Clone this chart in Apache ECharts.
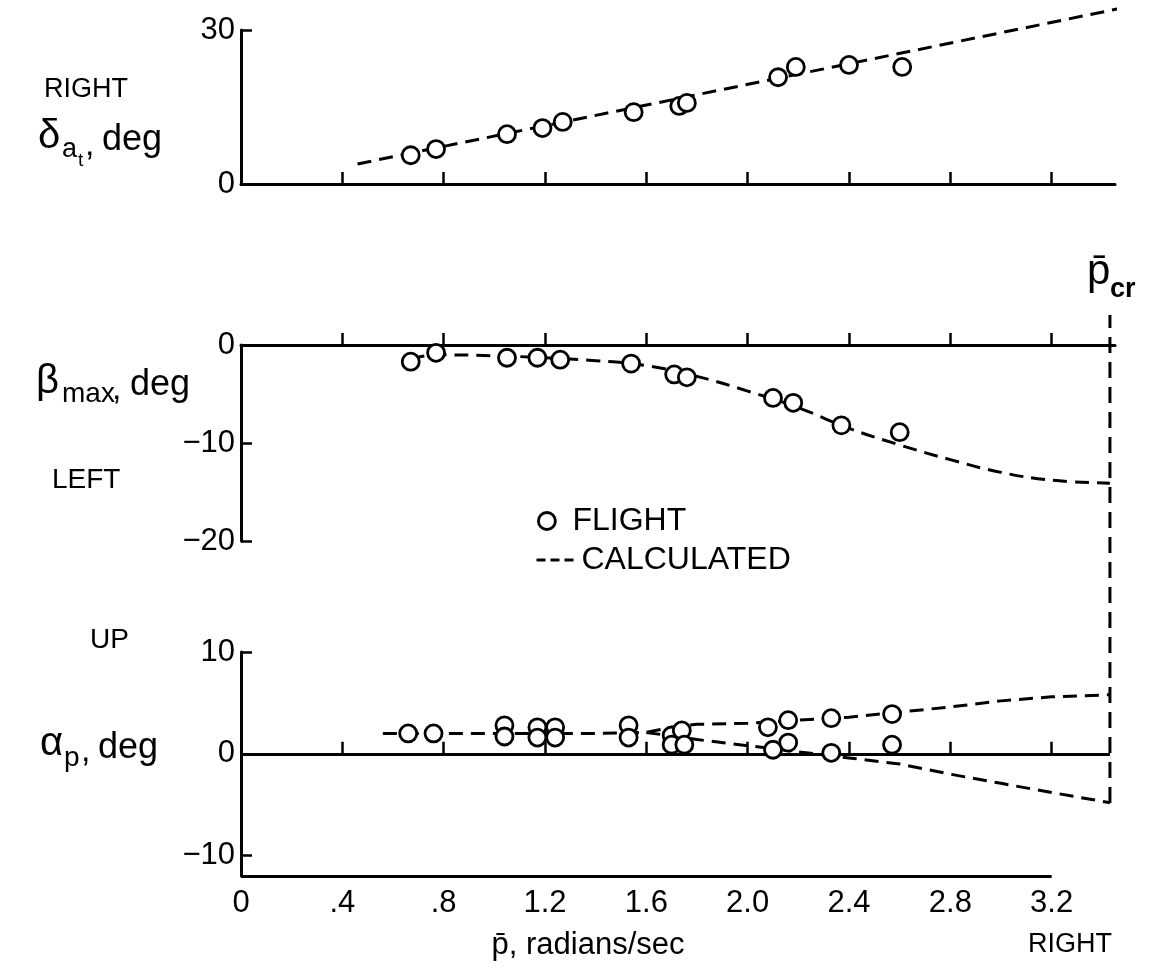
<!DOCTYPE html>
<html><head><meta charset="utf-8">
<script src="https://cdn.jsdelivr.net/npm/echarts@6/dist/echarts.min.js"></script>
<style>html,body{margin:0;padding:0;background:#fff}#c{width:1156px;height:968px}</style>
</head><body><div id="c"></div>
<script>
// ---------- data ----------
const xTickValues = [0.4, 0.8, 1.2, 1.6, 2.0, 2.4, 2.8, 3.2];
const xLabelValues = [0, 0.4, 0.8, 1.2, 1.6, 2.0, 2.4, 2.8, 3.2];
const pCr = 3.43;
const xMax = 3.45;

// top panel: aileron deflection
const flightP = [0.67, 0.77, 1.05, 1.19, 1.27, 1.55, 1.73, 1.76, 2.12, 2.19, 2.40, 2.61];
const deltaAt = [5.6, 6.8, 9.7, 10.9, 12.1, 14.0, 15.2, 15.8, 20.8, 22.8, 23.2, 22.8];
const calcDeltaP = [0.46, 3.47];
const calcDelta = [3.9, 34.2];

// middle panel: max sideslip
const betaP = [0.67, 0.77, 1.05, 1.17, 1.26, 1.54, 1.71, 1.76, 2.10, 2.18, 2.37, 2.60];
const betaMax = [-1.7, -0.8, -1.3, -1.3, -1.5, -1.9, -3.0, -3.3, -5.4, -5.9, -8.2, -8.9];
const calcBetaP = [0.67, 0.77, 1.0, 1.2, 1.4, 1.6, 1.8, 2.0, 2.2, 2.4, 2.6, 2.8, 3.0, 3.2, 3.43];
const calcBeta = [-1.4, -1.0, -1.1, -1.3, -1.6, -2.1, -3.2, -4.7, -6.4, -8.5, -10.2, -11.7, -13.0, -13.8, -14.1];

// bottom panel: alpha_p
const alphaPx = [0.66, 0.76, 1.04, 1.04, 1.17, 1.17, 1.24, 1.24, 1.53, 1.53, 1.70, 1.74, 1.70, 1.75, 2.08, 2.10, 2.16, 2.16, 2.33, 2.33, 2.57, 2.57];
const alphaVal = [2.0, 2.0, 2.8, 1.7, 2.6, 1.6, 2.6, 1.6, 2.8, 1.6, 1.8, 2.3, 0.9, 0.9, 2.6, 0.4, 3.3, 1.1, 3.5, 0.1, 3.9, 0.9];
const calcAlphaUpP = [0.56, 1.0, 1.4, 1.6, 1.7, 1.8, 2.0, 2.2, 2.4, 2.6, 2.8, 3.0, 3.2, 3.43];
const calcAlphaUp = [2.0, 2.0, 2.0, 2.1, 2.6, 2.9, 3.0, 3.3, 3.6, 4.1, 4.6, 5.2, 5.6, 5.8];
const calcAlphaLoP = [1.6, 1.8, 2.0, 2.2, 2.4, 2.6, 2.8, 3.0, 3.2, 3.43];
const calcAlphaLo = [2.1, 1.4, 0.8, 0.2, -0.4, -1.0, -2.0, -2.9, -3.8, -4.8];
const alphaMin = -12;

// ---------- chart ----------
const FONT = 'Liberation Sans';
const X0 = 241, XW = 874;
const zip = (a, b) => a.map((v, i) => [v, b[i]]);
const tickFmt = v => v === 0 ? '0' : (v < 1 ? '.' + Math.round(v * 10) : v.toFixed(1));
const yFmt = v => v < 0 ? '\u2212' + (-v) : String(v);

const axLine = { show: true, lineStyle: { color: '#000', width: 3 } };
const tickStyle = { color: '#000', width: 2.5 };
const labelStyle = { color: '#000', fontSize: 31, fontFamily: FONT };

function xAxis(grid, position, tickInside, showLabels, showLine) {
  return {
    type: 'value', gridIndex: grid, min: 0, max: xMax, position,
    axisLine: showLine ? axLine : { show: false },
    axisTick: { show: true, inside: tickInside, length: 12, lineStyle: tickStyle, customValues: xTickValues },
    axisLabel: showLabels ? Object.assign({ show: true, customValues: xLabelValues, formatter: tickFmt, margin: 12 }, labelStyle) : { show: false },
    splitLine: { show: false }
  };
}
function yAxis(grid, min, max, ticks, labels) {
  return {
    type: 'value', gridIndex: grid, min, max,
    axisLine: axLine,
    axisTick: { show: true, inside: true, length: 11, lineStyle: tickStyle, customValues: ticks },
    axisLabel: Object.assign({ show: true, customValues: labels, formatter: yFmt, margin: 6 }, labelStyle),
    splitLine: { show: false }
  };
}

const dash = { color: '#000', width: 3, type: [14, 8] };
const circle = { color: '#fff', borderColor: '#000', borderWidth: 2.8, opacity: 1 };
function flight(xi, yi, x, y, extra) {
  return Object.assign({ name: 'FLIGHT', type: 'scatter', xAxisIndex: xi, yAxisIndex: yi, symbol: 'circle', symbolSize: 17, itemStyle: circle, data: zip(x, y), z: 5 }, extra || {});
}
function calc(xi, yi, x, y, smooth) {
  return { name: 'CALCULATED', type: 'line', xAxisIndex: xi, yAxisIndex: yi, showSymbol: false, symbol: 'none', smooth: smooth || false, clip: false, itemStyle: { color: '#000' }, lineStyle: dash, data: zip(x, y), z: 3 };
}

function T(text, x, y, size, align, weight) {
  return { type: 'text', x, y, silent: true, style: { text, font: (weight ? weight + ' ' : '') + size + 'px "' + FONT + '"', fill: '#000', textAlign: align || 'left', textVerticalAlign: 'middle' } };
}

const option = {
  animation: false,
  backgroundColor: '#fff',
  grid: [
    { left: X0, width: XW, top: 30, height: 154 },
    { left: X0, width: XW, top: 345, height: 196 },
    { left: X0, width: XW, top: 652, height: 224 },
    { left: X0, width: XW, top: 315, height: 488 }
  ],
  xAxis: [
    xAxis(0, 'bottom', true, false, true),
    xAxis(1, 'top', false, false, true),
    xAxis(2, 'bottom', true, true, false),
    { type: 'value', gridIndex: 3, min: 0, max: xMax, show: false }
  ],
  yAxis: [
    yAxis(0, 0, 30, [30], [0, 30]),
    yAxis(1, -20, 0, [-10, -20], [0, -10, -20]),
    yAxis(2, alphaMin, 10, [10, -10], [10, 0, -10]),
    { type: 'value', gridIndex: 3, min: 0, max: 1, show: false }
  ],
  legend: [
    { data: ['FLIGHT'], left: 532, top: 500, itemWidth: 17, itemHeight: 17, selectedMode: false,
      itemStyle: { color: '#fff', borderColor: '#000', borderWidth: 2.8 },
      textStyle: { color: '#000', fontSize: 32, fontFamily: FONT, padding: [0, 0, 0, 12] } },
    { data: ['CALCULATED'], left: 530, top: 539, itemWidth: 40, itemHeight: 16, selectedMode: false,
      itemStyle: { color: 'rgba(0,0,0,0)', borderColor: 'rgba(0,0,0,0)', borderWidth: 0 },
      lineStyle: { color: '#000', width: 3, type: [9, 5] },
      textStyle: { color: '#000', fontSize: 32, fontFamily: FONT, padding: [0, 0, 0, 0] } }
  ],
  series: [
    calc(0, 0, calcDeltaP, calcDelta),
    flight(0, 0, flightP, deltaAt),
    calc(1, 1, calcBetaP, calcBeta, 0.4),
    flight(1, 1, betaP, betaMax),
    calc(2, 2, calcAlphaUpP, calcAlphaUp),
    calc(2, 2, calcAlphaLoP, calcAlphaLo),
    flight(2, 2, alphaPx, alphaVal, {
      markLine: {
        silent: true, symbol: ['none', 'none'], label: { show: false }, animation: false,
        lineStyle: { type: 'solid', color: '#000', width: 3 },
        data: [
          [{ coord: [0, 0] }, { coord: [pCr, 0] }],
          [{ coord: [0, alphaMin] }, { coord: [3.2, alphaMin] }]
        ]
      }
    }),
    { name: 'pcr', type: 'line', xAxisIndex: 3, yAxisIndex: 3, showSymbol: false, symbol: 'none',
      itemStyle: { color: '#000' },
      lineStyle: { color: '#000', width: 3, type: [16, 9] }, data: [[pCr, 0], [pCr, 1]], z: 4 }
  ],
  graphic: [
    T('RIGHT', 44, 90, 27),
    T('\u03B4', 38, 137, 40),
    T('a', 62, 150, 27),
    T('t', 78, 161, 19),
    T(',', 85, 146, 34),
    T('deg', 102, 140, 36),
    T('p\u0304', 1087, 272, 42),
    T('cr', 1110, 290, 27, 'left', 'bold'),
    T('\u03B2', 36, 382, 40),
    T('max', 62, 394, 28),
    T(',', 112, 390, 34),
    T('deg', 130, 385, 36),
    T('LEFT', 52, 480, 28),
    T('UP', 90, 640, 28),
    T('\u03B1', 40, 744, 40),
    T('p', 64, 758, 28),
    T(',', 81, 752, 34),
    T('deg', 98, 748, 36),
    T('p\u0304, radians/sec', 588, 945, 31, 'center'),
    T('RIGHT', 1070, 945, 27, 'center')
  ]
};

const chart = echarts.init(document.getElementById('c'), null, { renderer: 'canvas' });
chart.setOption(option);
</script>
</body></html>
